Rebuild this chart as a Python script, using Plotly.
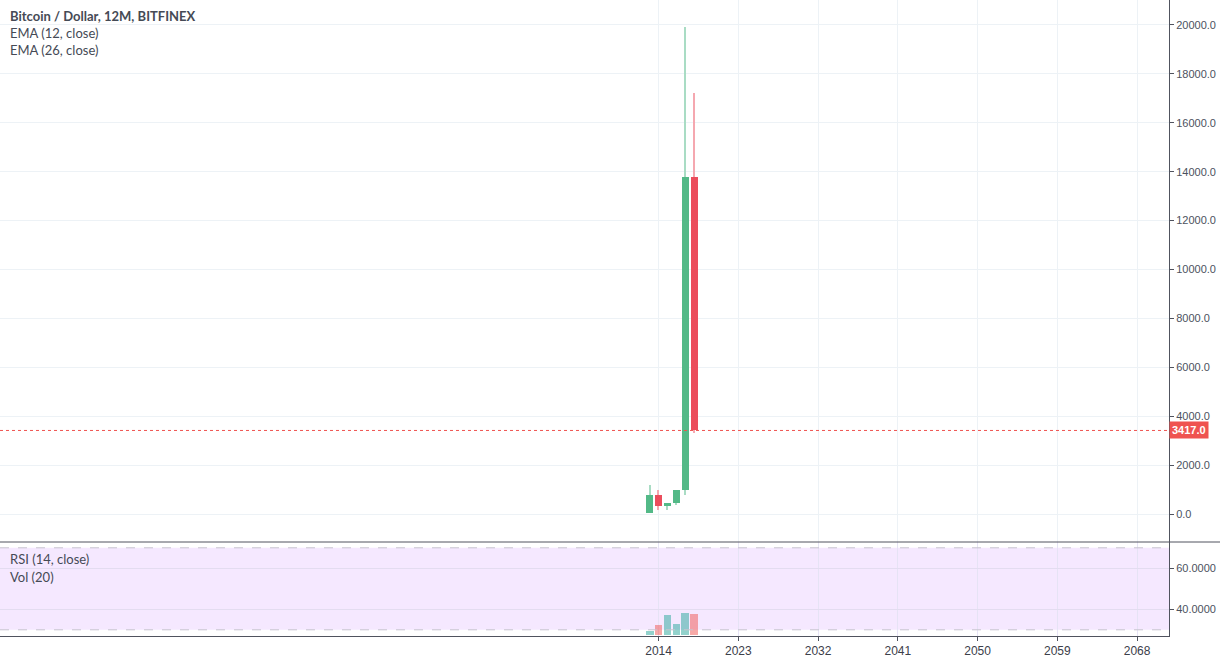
import plotly.graph_objects as go

W, H = 1220, 661

# ---- data ----
years = ["2013-01-01", "2014-01-01", "2015-01-01", "2016-01-01", "2017-01-01", "2018-01-01"]
opens = [30, 760, 315, 430, 965, 13800]
highs = [1175, 980, 470, 985, 19900, 17200]
lows = [25, 165, 170, 360, 780, 3320]
closes = [765, 315, 430, 965, 13800, 3417]
volumes = [4, 10, 20, 11, 22.3, 21]
last_price = 3417.0

time_ticks = ["2014-01-01", "2023-01-01", "2032-01-01", "2041-01-01", "2050-01-01", "2059-01-01", "2068-01-01"]
time_labels = ["2014", "2023", "2032", "2041", "2050", "2059", "2068"]
price_ticks = [0, 2000, 4000, 6000, 8000, 10000, 12000, 14000, 16000, 18000, 20000]
rsi_ticks = [40, 60]

# ---- styles ----
GREEN = "#53b987"
RED = "#eb4d5c"
GREEN_WICK = "#a9dcc4"
RED_WICK = "#f5a8b0"
VOL_UP = "rgba(38,166,154,0.5)"
VOL_DN = "rgba(239,83,80,0.5)"
TXT = "#4c525e"
GRID = "#edf2f6"
AXLINE = "#50535e"

YEAR_MS = 365.25 * 86400000
PX_MS = YEAR_MS / 8.852

up = [c >= o for o, c in zip(opens, closes)]

fig = go.Figure()

# wicks
fig.add_trace(go.Bar(
    x=years, y=[h - l for h, l in zip(highs, lows)], base=lows,
    width=[1.3 * PX_MS] * len(years),
    marker=dict(color=[GREEN_WICK if u else RED_WICK for u in up], line=dict(width=0)),
    xaxis="x", yaxis="y", hoverinfo="skip", showlegend=False))
# bodies
fig.add_trace(go.Bar(
    x=years, y=[abs(c - o) for o, c in zip(opens, closes)],
    base=[min(o, c) for o, c in zip(opens, closes)],
    width=[7 * PX_MS] * len(years),
    marker=dict(color=[GREEN if u else RED for u in up], line=dict(width=0)),
    xaxis="x", yaxis="y", hoverinfo="skip", showlegend=False))
# volume
fig.add_trace(go.Bar(
    x=years, y=volumes, width=[7.5 * PX_MS] * len(years),
    marker=dict(color=[VOL_UP if u else VOL_DN for u in up], line=dict(width=0)),
    xaxis="x2", yaxis="y3", hoverinfo="skip", showlegend=False))

x_right = 1169 / W
main_bottom = (H - 542) / H
low_bottom = (H - 636) / H

fig.update_layout(
    width=W, height=H, margin=dict(l=0, r=0, t=0, b=0, autoexpand=False),
    paper_bgcolor="white", plot_bgcolor="white",
    barmode="overlay", bargap=0, showlegend=False,
    font=dict(family="Liberation Sans, Arial, sans-serif", size=11, color=TXT),
    xaxis=dict(type="date", domain=[0, x_right], range=["1939-09-01", "2071-08-10"],
               tickvals=time_ticks, showticklabels=False, showgrid=True, gridcolor=GRID,
               zeroline=False, anchor="y", ticks="", automargin=False),
    xaxis2=dict(type="date", domain=[0, x_right], matches="x", anchor="y2",
                tickvals=time_ticks, ticktext=time_labels, showgrid=True, gridcolor="#e6e3f5",
                ticks="outside", ticklen=4, tickcolor=AXLINE, showline=True, linecolor=AXLINE,
                linewidth=1, zeroline=False, automargin=False,
                tickfont=dict(family="Liberation Sans, Arial, sans-serif", size=12, color="#3c404a")),
    yaxis=dict(domain=[main_bottom, 1], range=[-1145, 21022], side="right", anchor="x",
               tickvals=price_ticks, tickformat=".1f", showgrid=True, gridcolor=GRID,
               ticks="outside", ticklen=4, tickcolor=AXLINE, showline=True, linecolor=AXLINE,
               zeroline=False, automargin=False),
    yaxis2=dict(domain=[low_bottom, main_bottom], range=[26.98, 72.83], side="right", anchor="x2",
                tickvals=rsi_ticks, tickformat=".4f", showgrid=True, gridcolor="#e3dcf0",
                ticks="outside", ticklen=4, tickcolor=AXLINE, showline=True, linecolor=AXLINE,
                zeroline=False, automargin=False),
    yaxis3=dict(domain=[low_bottom, main_bottom], range=[-1, 93], overlaying="y2",
                anchor="x2", visible=False, automargin=False),
)

# RSI band background and levels
fig.add_shape(type="rect", xref="paper", yref="y2", x0=0, x1=x_right, y0=30, y1=70,
              fillcolor="#f5e8ff", line=dict(width=0), layer="below")
for lvl in (30, 70):
    fig.add_shape(type="line", xref="paper", yref="y2", x0=0, x1=x_right, y0=lvl, y1=lvl,
                  line=dict(color="#c6c3cf", width=1, dash="dash"), layer="above")

# pane separator
fig.add_shape(type="line", xref="paper", yref="paper", x0=0, x1=1, y0=main_bottom, y1=main_bottom,
              line=dict(color="#50535e", width=1))

# last price line + label
fig.add_shape(type="line", xref="paper", yref="y", x0=0, x1=x_right, y0=last_price, y1=last_price,
              line=dict(color="#ef5350", width=1, dash="dot"))
fig.add_annotation(x=x_right, xref="paper", y=last_price, yref="y", xanchor="left", yanchor="middle",
                   text="<b>%.1f</b>" % last_price, showarrow=False,
                   font=dict(color="white", size=11, family="Liberation Sans, Arial, sans-serif"),
                   bgcolor="#ef5350", borderpad=2, xshift=0)

# legends
def label(text, ypx, bold=False):
    fig.add_annotation(x=8 / W, xref="paper", y=1 - ypx / H, yref="paper",
                       xanchor="left", yanchor="middle", showarrow=False,
                       text=("<b>%s</b>" % text) if bold else text,
                       font=dict(family="Lato, Open Sans, sans-serif", size=13, color="#454a55"))

label("Bitcoin / Dollar, 12M, BITFINEX", 16, bold=True)
label("EMA (12, close)", 33)
label("EMA (26, close)", 50)
label("RSI (14, close)", 559)
label("Vol (20)", 577)

fig.write_html("out.html", config={"displayModeBar": False},
               post_script="document.body.style.margin='0';document.body.style.overflow='hidden';")
